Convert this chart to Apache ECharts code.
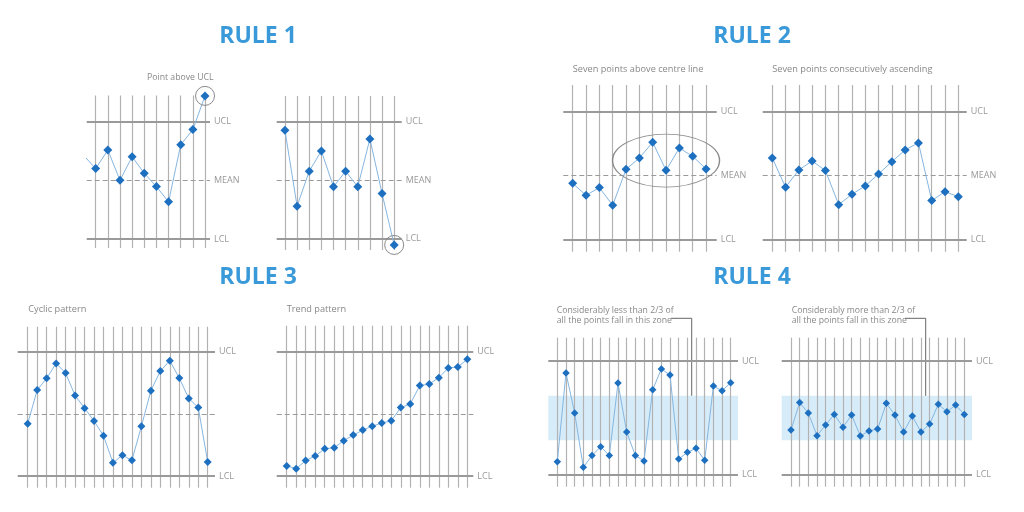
<!DOCTYPE html>
<html>
<head>
<meta charset="utf-8">
<script src="https://cdn.jsdelivr.net/npm/echarts@6/dist/echarts.min.js"></script>
<style>
  html, body { margin: 0; padding: 0; background: #fff; }
  #chart { width: 1024px; height: 512px; }
</style>
</head>
<body>
<div id="chart"></div>
<script>
// all values in sigma units: MEAN = 0, UCL = +3, LCL = -3
var ucl = 3, mean = 0, lcl = -3;
var zoneC = [-1.17, 1.17];

// rule 1
var rule1AboveLead = [1.28];   // point just left of the frame
var rule1Above = [0.6, 1.55, 0, 1.21, 0.36, -0.32, -1.1, 1.82, 2.6, 4.32];
var rule1Below = [2.56, -1.33, 0.46, 1.5, -0.34, 0.46, -0.34, 2.12, -0.68, -3.32];
// rule 2
var rule2Run = [-0.37, -0.93, -0.57, -1.4, 0.29, 0.82, 1.56, 0.24, 1.29, 0.9, 0.31];
var rule2Rise = [0.82, -0.55, 0.26, 0.68, 0.23, -1.37, -0.88, -0.49, 0.07, 0.65, 1.2, 1.53, -1.18, -0.76, -1.0];
// rule 3
var rule3Cyclic = [-0.47, 1.15, 1.72, 2.44, 1.97, 0.89, 0.28, -0.34, -1.05, -2.36,
                   -1.99, -2.24, -0.6, 1.12, 2.07, 2.57, 1.73, 0.75, 0.31, -2.32];
var rule3Trend = [-2.51, -2.64, -2.25, -2.03, -1.68, -1.63, -1.29, -1.02, -0.78, -0.59,
                  -0.44, -0.33, 0.31, 0.48, 1.37, 1.44, 1.75, 2.22, 2.27, 2.64];
// rule 4
var rule4Less = [-2.3, 2.37, 0.26, -2.6, -1.98, -1.51, -1.98, 1.84, -0.74, -1.98, -2.26,
                 1.49, 2.58, 2.26, -2.16, -1.81, -1.6, -2.23, 1.68, 1.44, 1.86];
var rule4More = [-0.63, 0.81, 0.26, -0.93, -0.37, 0.19, -0.49, 0.16, -0.95, -0.68, -0.58,
                 0.77, 0.16, -0.74, 0.1, -0.74, -0.32, 0.72, 0.33, 0.68, 0.19];

var ruleTitles = ['RULE 1', 'RULE 2', 'RULE 3', 'RULE 4'];
var subTitles = ['Point above UCL', 'Seven points above centre line', 'Seven points consecutively ascending',
                 'Cyclic pattern', 'Trend pattern'];
var note4Less = ['Considerably less than 2/3 of', 'all the points fall in this zone'];
var note4More = ['Considerably more than 2/3 of', 'all the points fall in this zone'];

var panels = [
  { data: rule1Above, box: [86.7, 95.5, 123.3, 152.5], x: [0.26, 10.41], y: [-3.46, 4.34], mean: 'MEAN', ring: true, size: 9 },
  { data: rule1Below, box: [276.7, 96, 125, 154], x: [0.32, 10.62], y: [-3.58, 4.32], mean: 'MEAN', ring: true, size: 9 },
  { data: rule2Run, box: [563.3, 85, 153.4, 166.7], x: [0.295, 11.8], y: [-3.58, 4.25], mean: 'MEAN', oval: [8, 0.7], size: 9 },
  { data: rule2Rise, box: [762.7, 85, 204, 166.7], x: [0.28, 15.63], y: [-3.58, 4.25], mean: 'MEAN', size: 9 },
  { data: rule3Cyclic, box: [17.7, 326.7, 197.3, 161], x: [-0.056, 20.77], y: [-3.56, 4.21], mean: '', size: 8 },
  { data: rule3Trend, box: [276.7, 325.7, 196.6, 162], x: [-0.052, 20.63], y: [-3.56, 4.26], mean: '', size: 8 },
  { data: rule4Less, box: [548.3, 337.7, 189.7, 149], x: [-0.04, 21.84], y: [-3.62, 4.23], mean: null, band: true, size: 7.5 },
  { data: rule4More, box: [781.7, 337.7, 190.3, 149], x: [-0.073, 21.89], y: [-3.62, 4.23], mean: null, band: true, size: 7.5 }
];

var grey = '#9a9a9a';
var lineBlue = '#86b6e0';
var dotBlue = '#1d6fc0';
var font = '"Open Sans", "Noto Sans", sans-serif';

var grids = [], xAxes = [], yAxes = [], series = [];

panels.forEach(function (p, i) {
  grids.push({ left: p.box[0], top: p.box[1], width: p.box[2], height: p.box[3] });
  xAxes.push({ type: 'value', gridIndex: i, min: p.x[0], max: p.x[1], show: false });
  yAxes.push({ type: 'value', gridIndex: i, min: p.y[0], max: p.y[1], show: false });

  var lines = [];
  for (var k = 1; k <= p.data.length; k++) {
    lines.push({ xAxis: k, lineStyle: { color: '#b2b2b2', width: 1.2, type: 'solid' }, label: { show: false } });
  }
  lines.push({ yAxis: ucl, lineStyle: { color: grey, width: 2, type: 'solid' }, label: { formatter: 'UCL' } });
  lines.push({ yAxis: lcl, lineStyle: { color: grey, width: 2, type: 'solid' }, label: { formatter: 'LCL' } });
  if (p.mean !== null) {
    lines.push({ yAxis: mean, lineStyle: { color: '#9a9a9a', width: 1, type: [5, 3] },
                 label: { show: !!p.mean, formatter: p.mean || '' } });
  }

  var marks = [];
  if (p.ring) {
    var n = p.data.length;
    marks.push({ coord: [n, p.data[n - 1]], symbol: 'circle', symbolSize: 19 });
  }
  if (p.oval) {
    marks.push({ coord: p.oval, symbol: 'circle', symbolSize: [107, 53] });
  }

  var s = {
    type: 'line',
    xAxisIndex: i,
    yAxisIndex: i,
    z: 3,
    clip: false,
    animation: false,
    silent: true,
    symbol: 'diamond',
    symbolSize: p.size,
    lineStyle: { color: lineBlue, width: 1 },
    itemStyle: { color: dotBlue },
    data: p.data.map(function (v, j) { return [j + 1, v]; }),
    markLine: {
      z: 1,
      silent: true,
      animation: false,
      symbol: ['none', 'none'],
      label: { show: true, position: 'end', color: '#999', fontSize: 9, fontFamily: font, distance: 4 },
      data: lines
    }
  };
  if (marks.length) {
    s.markPoint = {
      silent: true,
      animation: false,
      label: { show: false },
      itemStyle: { color: 'rgba(0,0,0,0)', borderColor: '#8a8a8a', borderWidth: 1 },
      data: marks
    };
  }
  if (p.band) {
    s.markArea = {
      z: 0,
      silent: true,
      animation: false,
      itemStyle: { color: '#d6ecf8' },
      data: [[{ yAxis: zoneC[0] }, { yAxis: zoneC[1] }]]
    };
  }
  series.push(s);
});

// the first rule-1 line comes in from outside the frame
series.push({
  type: 'line',
  xAxisIndex: 0,
  yAxisIndex: 0,
  z: 2,
  clip: true,
  animation: false,
  silent: true,
  showSymbol: false,
  lineStyle: { color: lineBlue, width: 1 },
  data: [[0, rule1AboveLead[0]], [1, rule1Above[0]]]
});

function txt(str, x, y, size, color, align, weight) {
  return {
    type: 'text', x: x, y: y, silent: true,
    style: { text: str, fill: color, fontSize: size, fontFamily: font, fontWeight: weight || 'normal',
             align: align || 'left', verticalAlign: 'middle' }
  };
}

var graphics = [
  txt(ruleTitles[0], 258, 36, 23, '#3a9ad9', 'center', 'bold'),
  txt(ruleTitles[1], 752, 36, 23, '#3a9ad9', 'center', 'bold'),
  txt(ruleTitles[2], 258, 277, 23, '#3a9ad9', 'center', 'bold'),
  txt(ruleTitles[3], 752, 277, 23, '#3a9ad9', 'center', 'bold'),
  txt(subTitles[0], 147, 78, 8.7, '#888', 'left'),
  txt(subTitles[1], 572.7, 69, 9.2, '#888', 'left'),
  txt(subTitles[2], 772.3, 69, 9.2, '#888', 'left'),
  txt(subTitles[3], 28.3, 309, 9.2, '#888', 'left'),
  txt(subTitles[4], 286.7, 309, 9.2, '#888', 'left'),
  txt(note4Less[0], 556.7, 310.7, 8.7, '#888', 'left'),
  txt(note4Less[1], 556.7, 321, 8.7, '#888', 'left'),
  txt(note4More[0], 791.7, 310.7, 8.7, '#888', 'left'),
  txt(note4More[1], 791.7, 321, 8.7, '#888', 'left')
];

[[671, 691.7], [905, 925.7]].forEach(function (a) {
  graphics.push({
    type: 'polyline', silent: true,
    shape: { points: [[a[0], 318.3], [a[1], 318.3], [a[1], 406]] },
    style: { stroke: '#666', lineWidth: 1, fill: null }
  });
  graphics.push({
    type: 'polygon', silent: true,
    shape: { points: [[a[1] - 3.2, 405], [a[1] + 3.2, 405], [a[1], 412]] },
    style: { fill: '#555' }
  });
});

var chart = echarts.init(document.getElementById('chart'));
chart.setOption({
  backgroundColor: '#fff',
  animation: false,
  grid: grids,
  xAxis: xAxes,
  yAxis: yAxes,
  series: series,
  graphic: graphics
});
</script>
</body>
</html>
